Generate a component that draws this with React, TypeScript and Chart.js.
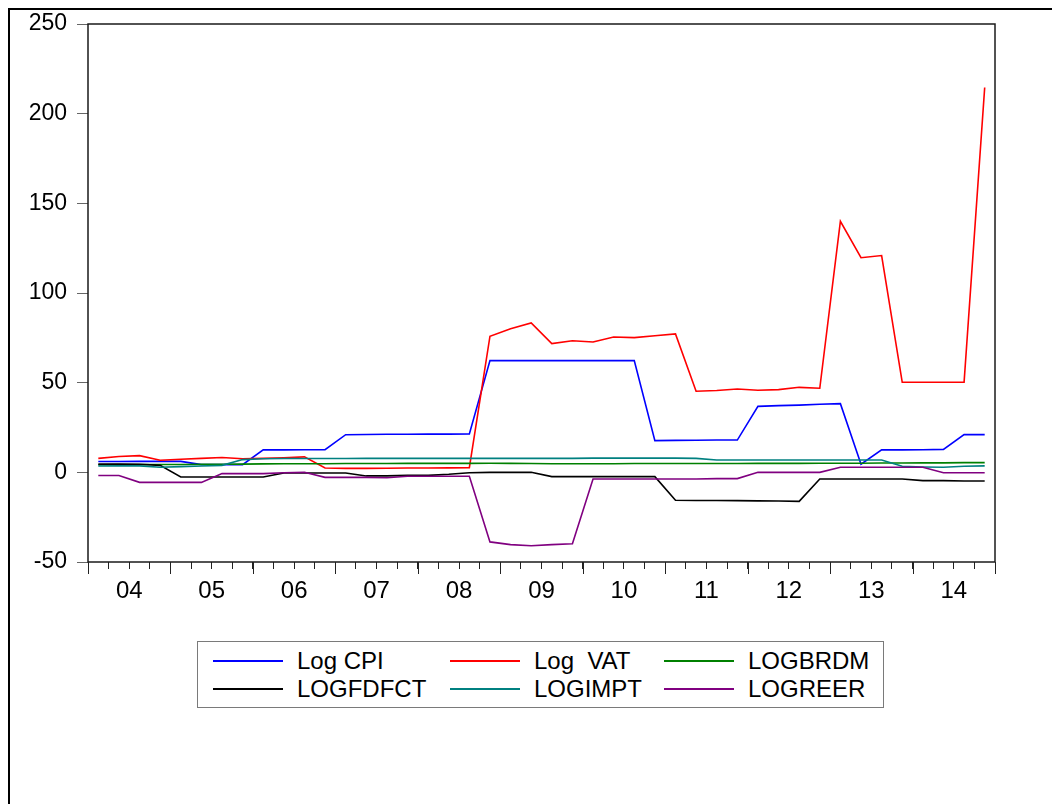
import React, { useEffect, useRef } from 'react';
import { Chart, registerables } from 'chart.js';

Chart.register(...registerables);

const FONT = "'Liberation Sans', Arial, Helvetica, sans-serif";

const years = ['04', '05', '06', '07', '08', '09', '10', '11', '12', '13', '14'];
const quarters = years.flatMap((y) => ['Q1', 'Q2', 'Q3', 'Q4'].map((q) => `20${y}${q}`));

const logCPI = [
  6.0, 6.0, 6.1, 6.1, 6.1, 4.3, 4.3, 4.3, 12.5, 12.5, 12.6, 12.6,
  21.0, 21.1, 21.2, 21.2, 21.3, 21.3, 21.4, 62.3, 62.3, 62.3, 62.3, 62.3,
  62.3, 62.3, 62.3, 17.7, 17.8, 17.9, 18.0, 18.0, 36.8, 37.2, 37.5, 38.0,
  38.3, 4.5, 12.5, 12.5, 12.6, 12.8, 21.0, 21.0,
];
const logVAT = [
  7.8, 8.8, 9.3, 6.7, 7.3, 7.8, 8.3, 7.6, 7.8, 8.1, 8.6, 2.4,
  2.2, 2.2, 2.3, 2.4, 2.4, 2.5, 2.6, 75.9, 80.1, 83.3, 71.8, 73.4,
  72.7, 75.5, 75.1, 76.2, 77.2, 45.2, 45.6, 46.5, 45.8, 46.1, 47.4, 46.9,
  140.0, 119.7, 120.9, 50.2, 50.2, 50.2, 50.2, 214.6,
];
const logBRDM = [
  4.2, 4.3, 4.3, 4.4, 4.4, 4.5, 4.5, 4.6, 4.7, 4.8, 4.8, 4.8,
  4.9, 4.9, 4.9, 5.0, 5.0, 5.0, 5.0, 5.1, 5.0, 4.9, 4.8, 4.8,
  4.8, 4.8, 4.9, 4.9, 4.9, 4.9, 4.9, 4.9, 5.0, 5.0, 5.0, 5.1,
  5.1, 5.1, 5.2, 5.2, 5.3, 5.3, 5.4, 5.4,
];
const logFDFCT = [
  4.6, 4.6, 4.5, 3.9, -2.6, -2.6, -2.6, -2.6, -2.6, -0.4, -0.4, -0.4,
  -0.4, -2.0, -2.0, -1.7, -1.7, -1.1, -0.2, 0.0, 0.0, 0.0, -2.4, -2.4,
  -2.4, -2.4, -2.4, -2.4, -15.6, -15.7, -15.7, -15.8, -15.9, -16.0, -16.2, -3.7,
  -3.7, -3.7, -3.7, -3.7, -4.6, -4.6, -4.8, -4.8,
];
const logIMPT = [
  3.5, 3.6, 3.6, 2.8, 3.2, 3.5, 3.9, 7.1, 7.6, 7.7, 7.7, 7.7,
  7.7, 7.8, 7.8, 7.8, 7.8, 7.8, 7.8, 7.8, 7.8, 7.8, 7.8, 7.8,
  7.9, 7.9, 7.9, 7.9, 7.9, 7.8, 6.9, 6.9, 6.9, 6.9, 6.9, 6.9,
  6.9, 6.9, 6.9, 3.4, 3.0, 2.8, 3.4, 3.6,
];
const logREER = [
  -1.8, -1.8, -5.6, -5.6, -5.6, -5.6, -0.7, -0.7, -0.7, -0.2, 0.0, -2.8,
  -2.8, -2.8, -3.0, -2.2, -2.2, -2.2, -2.2, -38.8, -40.3, -40.9, -40.3, -39.8,
  -3.7, -3.7, -3.7, -3.7, -3.7, -3.7, -3.5, -3.5, 0.0, 0.0, 0.0, 0.0,
  2.8, 2.8, 2.8, 2.8, 2.8, -0.2, -0.2, -0.2,
];

const seriesNames = ['Log CPI', 'Log  VAT', 'LOGBRDM', 'LOGFDFCT', 'LOGIMPT', 'LOGREER'];
const seriesColors = ['#0000ff', '#ff0000', '#008000', '#000000', '#008080', '#800080'];
const seriesValues = [logCPI, logVAT, logBRDM, logFDFCT, logIMPT, logREER];

const yTicksMin = -50;
const yTicksMax = 250;
const yStep = 50;

const framePlugin = {
  id: 'evFrame',
  afterDraw(chart: any) {
    const { ctx, chartArea: a, scales } = chart;
    ctx.save();
    ctx.strokeStyle = '#1a1a1a';
    ctx.lineWidth = 1.5;
    ctx.strokeRect(a.left, a.top, a.right - a.left, a.bottom - a.top);
    const xs = scales.x;
    ctx.lineWidth = 1;
    ctx.strokeStyle = '#222';
    for (let v = 0; v <= quarters.length; v += 4) {
      const px = Math.round(xs.getPixelForValue(v)) + 0.5;
      ctx.beginPath();
      ctx.moveTo(px, a.bottom);
      ctx.lineTo(px, a.bottom + 12);
      ctx.stroke();
    }
    ctx.restore();
  },
};

export default function App() {
  const ref = useRef<HTMLCanvasElement | null>(null);

  useEffect(() => {
    if (!ref.current) return;
    const datasets = seriesNames.map((name, s) => ({
      label: name,
      data: seriesValues[s].map((v, i) => ({ x: i + 0.5, y: v })),
      borderColor: seriesColors[s],
      backgroundColor: seriesColors[s],
      borderWidth: 1.6,
      pointRadius: 0,
      tension: 0,
      fill: false,
      order: seriesNames.length - s,
    }));
    const chart = new Chart(ref.current, {
      type: 'line',
      data: { datasets },
      plugins: [framePlugin],
      options: {
        responsive: false,
        animation: false,
        layout: { padding: { top: 14, right: 57, left: 0, bottom: 0 } },
        plugins: { legend: { display: false }, tooltip: { enabled: false } },
        scales: {
          x: {
            type: 'linear',
            min: 0,
            max: quarters.length,
            afterFit: (s: any) => {
              s.height = 68;
              s.paddingLeft = 0;
              s.paddingRight = 0;
            },
            grid: { drawOnChartArea: false, drawTicks: true, tickLength: 7, tickColor: '#222', tickWidth: 1 },
            border: { display: false },
            ticks: {
              stepSize: 1,
              autoSkip: false,
              maxRotation: 0,
              padding: 8,
              color: '#000',
              font: { family: FONT, size: 24 },
              callback: (v: any) => {
                const n = Number(v);
                return n % 4 === 2 ? years[(n - 2) / 4] : '';
              },
            },
          },
          y: {
            min: yTicksMin,
            max: yTicksMax,
            afterFit: (s: any) => {
              s.width = 78;
              s.paddingTop = 0;
              s.paddingBottom = 0;
            },
            grid: { drawOnChartArea: false, drawTicks: true, tickLength: 11, tickColor: '#666', tickWidth: 1 },
            border: { display: false },
            ticks: { stepSize: yStep, padding: 10, color: '#000', font: { family: FONT, size: 23 } },
          },
        },
      },
    } as any);
    return () => chart.destroy();
  }, []);

  const sampleX = [15, 252, 466];
  const textX = [99, 336, 550];
  const rowY = [18.5, 47];

  return (
    <div
      style={{
        position: 'fixed',
        left: 8,
        top: 8,
        right: 0,
        bottom: 0,
        borderLeft: '2px solid #000',
        borderTop: '2px solid #000',
        background: '#fff',
      }}
    >
      <canvas
        ref={ref}
        width={1042}
        height={620}
        style={{ position: 'absolute', left: 0, top: 0, width: 1042, height: 620, display: 'block' }}
      />
      <div
        style={{
          position: 'absolute',
          left: 187,
          top: 631,
          width: 687,
          height: 67,
          border: '1px solid #7a7a7a',
          boxSizing: 'border-box',
          fontFamily: FONT,
          fontSize: 24,
          lineHeight: '24px',
          color: '#000',
        }}
      >
        {seriesNames.map((name, i) => {
          const col = i % 3;
          const row = Math.floor(i / 3);
          return (
            <React.Fragment key={name}>
              <div
                style={{
                  position: 'absolute',
                  left: sampleX[col],
                  top: rowY[row] - 1,
                  width: 70,
                  height: 2,
                  background: seriesColors[i],
                }}
              />
              <div
                style={{
                  position: 'absolute',
                  left: textX[col],
                  top: rowY[row] - 12,
                  whiteSpace: 'pre',
                }}
              >
                {name}
              </div>
            </React.Fragment>
          );
        })}
      </div>
    </div>
  );
}
